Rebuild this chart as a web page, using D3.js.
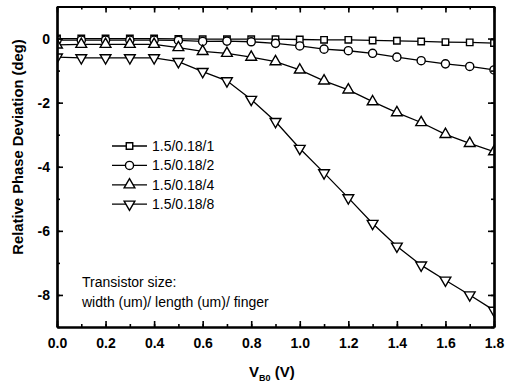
<html>
    <head>
        <meta charset="utf-8">
        <title>Phase deviation</title>
        <style>
            body { margin: 0; background: #fff; }
            text { font-family: "Liberation Sans", Arial, sans-serif; }
        </style>
    </head>

    <body>
        <div id="svghere"></div>

        <script src="https://d3js.org/d3.v7.min.js"></script>
        <script>
        // bias voltage V_B0 (V)
        var vb = [0.0, 0.1, 0.2, 0.3, 0.4, 0.5, 0.6, 0.7, 0.8, 0.9, 1.0, 1.1, 1.2, 1.3, 1.4, 1.5, 1.6, 1.7, 1.8];

        // relative phase deviation (deg), one per transistor size
        var f1 = [0, 0, 0, 0, 0, -0.01, -0.02, -0.02, -0.02, -0.02, -0.03, -0.04, -0.04, -0.06, -0.07, -0.09, -0.11, -0.12, -0.14];
        var f2 = [-0.05, -0.05, -0.05, -0.05, -0.05, -0.06, -0.09, -0.08, -0.1, -0.15, -0.23, -0.33, -0.38, -0.46, -0.58, -0.69, -0.79, -0.87, -0.98];
        var f4 = [-0.2, -0.18, -0.18, -0.18, -0.18, -0.28, -0.4, -0.46, -0.58, -0.72, -0.98, -1.32, -1.6, -1.97, -2.31, -2.62, -2.99, -3.27, -3.53];
        var f8 = [-0.58, -0.6, -0.6, -0.6, -0.6, -0.72, -1.03, -1.32, -1.9, -2.59, -3.43, -4.19, -4.97, -5.77, -6.48, -7.07, -7.54, -8.0, -8.48];

        var names = ["1.5/0.18/1", "1.5/0.18/2", "1.5/0.18/4", "1.5/0.18/8"];
        var xTicks = [0, 0.2, 0.4, 0.6, 0.8, 1.0, 1.2, 1.4, 1.6, 1.8];
        var yTicks = [0, -2, -4, -6, -8];

        var series = [
            { name: names[0], values: f1, symbol: d3.symbolSquare, size: 42 },
            { name: names[1], values: f2, symbol: d3.symbolCircle, size: 52 },
            { name: names[2], values: f4, symbol: d3.symbolTriangle, size: 50 },
            { name: names[3], values: f8, symbol: d3.symbolTriangle, size: 50, flip: true }
        ];

        var W = 507, H = 388;
        var pL = 57, pR = 494, pT = 6.5, pB = 327;

        var svg = d3.select("#svghere")
            .append('svg')
            .attr('width', W)
            .attr('height', H);

        var x = d3.scaleLinear().domain([0, 1.8]).range([pL, pR]);
        var y = d3.scaleLinear().domain([-9, 1]).range([pB, pT]);

        svg.append('defs').append('clipPath')
            .attr('id', 'plotclip')
            .append('rect')
            .attr('x', pL).attr('y', pT)
            .attr('width', pR - pL).attr('height', pB - pT);

        var plot = svg.append('g').attr('clip-path', 'url(#plotclip)');

        var line = d3.line()
            .x(function(d, i) { return x(vb[i]); })
            .y(function(d) { return y(d); });

        series.forEach(function(s) {
            plot.append('path')
                .attr('d', line(s.values))
                .attr('fill', 'none')
                .attr('stroke', '#000')
                .attr('stroke-width', 1.3);
        });

        function marker(sel, s) {
            sel.append('path')
                .attr('d', d3.symbol().type(s.symbol).size(s.size))
                .attr('transform', function(d) {
                    var t = 'translate(' + d[0] + ',' + d[1] + ')';
                    return s.flip ? t + ' rotate(180)' : t;
                })
                .attr('fill', '#fff')
                .attr('stroke', '#000')
                .attr('stroke-width', 1.4);
        }

        series.forEach(function(s) {
            var pts = s.values.map(function(v, i) { return [x(vb[i]), y(v)]; });
            plot.selectAll(null)
                .data(pts)
                .enter()
                .append('g')
                .each(function(d) { marker(d3.select(this), s); });
        });

        // axes, ticks pointing inward on all four sides
        var minorX = d3.range(0, 19).map(function(i) { return i / 10; });
        var minorY = d3.range(-9, 2);

        function axis(gen, transform) {
            return svg.append('g')
                .attr('transform', transform)
                .call(gen);
        }

        var axB = axis(d3.axisBottom(x).tickValues(xTicks).tickFormat(d3.format('.1f')).tickSizeInner(-6).tickSizeOuter(0), 'translate(0,' + pB + ')');
        var axBm = axis(d3.axisBottom(x).tickValues(minorX).tickFormat('').tickSizeInner(-3).tickSizeOuter(0), 'translate(0,' + pB + ')');
        var axT = axis(d3.axisTop(x).tickValues(xTicks).tickFormat('').tickSizeInner(-6).tickSizeOuter(0), 'translate(0,' + pT + ')');
        var axTm = axis(d3.axisTop(x).tickValues(minorX).tickFormat('').tickSizeInner(-3).tickSizeOuter(0), 'translate(0,' + pT + ')');
        var axL = axis(d3.axisLeft(y).tickValues(yTicks).tickFormat(function(d) { return String(d); }).tickSizeInner(-6).tickSizeOuter(0), 'translate(' + pL + ',0)');
        var axLm = axis(d3.axisLeft(y).tickValues(minorY).tickFormat('').tickSizeInner(-3).tickSizeOuter(0), 'translate(' + pL + ',0)');
        var axR = axis(d3.axisRight(y).tickValues(yTicks).tickFormat('').tickSizeInner(-6).tickSizeOuter(0), 'translate(' + pR + ',0)');
        var axRm = axis(d3.axisRight(y).tickValues(minorY).tickFormat('').tickSizeInner(-3).tickSizeOuter(0), 'translate(' + pR + ',0)');

        [axB, axBm, axT, axTm, axL, axLm, axR, axRm].forEach(function(a) {
            a.select('.domain').attr('stroke', '#000').attr('stroke-width', 2.2);
            a.selectAll('.tick line').attr('stroke', '#000').attr('stroke-width', 1.6);
        });

        axB.selectAll('.tick text')
            .attr('dy', null)
            .attr('y', 21)
            .style('font-size', '14px')
            .style('font-weight', 'bold')
            .style('font-family', '"Liberation Sans", Arial, sans-serif')
            .attr('fill', '#000');

        axL.selectAll('.tick text')
            .attr('x', -7)
            .attr('dy', '0.36em')
            .style('font-size', '14px')
            .style('font-weight', 'bold')
            .style('font-family', '"Liberation Sans", Arial, sans-serif')
            .attr('fill', '#000');

        // axis titles
        var xl = svg.append('text')
            .attr('x', 249)
            .attr('y', 377)
            .style('font-size', '15px')
            .style('font-weight', 'bold');
        xl.append('tspan').text('V');
        xl.append('tspan').attr('dy', 4).style('font-size', '9px').text('B0');
        xl.append('tspan').attr('dy', -4).text(' (V)');

        svg.append('text')
            .attr('transform', 'translate(23,147) rotate(-90)')
            .attr('text-anchor', 'middle')
            .style('font-size', '14.8px')
            .style('font-weight', 'bold')
            .text('Relative Phase Deviation (deg)');

        // legend
        var legend = svg.append('g');
        series.forEach(function(s, i) {
            var ly = 146 + i * 19.4;
            legend.append('line')
                .attr('x1', 112).attr('x2', 147)
                .attr('y1', ly).attr('y2', ly)
                .attr('stroke', '#000').attr('stroke-width', 1.3);
            legend.append('g').datum([129.5, ly]).each(function() { marker(d3.select(this), s); });
            legend.append('text')
                .attr('x', 152)
                .attr('y', ly + 5)
                .style('font-size', '14px')
                .text(s.name);
        });

        svg.append('text')
            .attr('x', 82).attr('y', 287)
            .style('font-size', '14px')
            .text('Transistor size:');
        svg.append('text')
            .attr('x', 82).attr('y', 307)
            .style('font-size', '14px')
            .text('width (um)/ length (um)/ finger');
        </script>
    </body>
</html>
